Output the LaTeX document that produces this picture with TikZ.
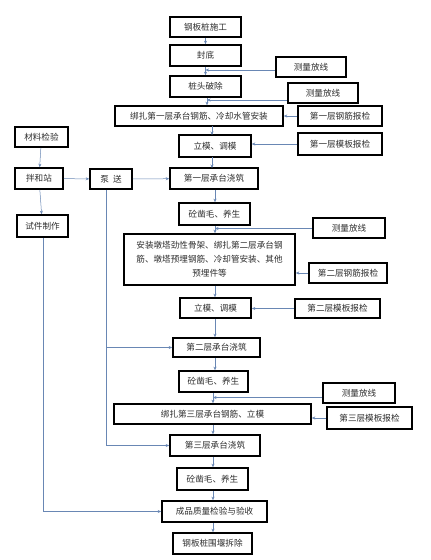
\documentclass[tikz,border=0pt]{standalone}
\usepackage{fontspec}
\newfontfamily\cjk{Noto Sans CJK SC}
\usetikzlibrary{arrows.meta}
\definecolor{conn}{RGB}{105,135,180}
\definecolor{txt}{RGB}{45,45,45}
\begin{document}
\begin{tikzpicture}[x=1pt,y=-1pt,
  box/.style={draw=black,line width=1.6pt,fill=white,inner sep=0pt,text=txt,
    font=\cjk\fontsize{8.6}{14}\selectfont,align=center},
  conn/.style={draw=conn,line width=0.5pt},
  arr/.style={conn,-{Stealth[length=3.5pt,width=3pt]}}]
\useasboundingbox (0,0) rectangle (431,560);
% main column
\node[box,minimum width=71pt,minimum height=20pt] (b1) at (205.5,27) {钢板桩施工};
\node[box,minimum width=71pt,minimum height=21pt] (b2) at (205.5,55.5) {封底};
\node[box,minimum width=71pt,minimum height=21pt] (b3) at (205.5,86.5) {桩头破除};
\node[box,minimum width=168pt,minimum height=20pt] (b4) at (199,116) {绑扎第一层承台钢筋、冷却水管安装};
\node[box,minimum width=72pt,minimum height=22pt] (b5) at (215,146) {立模、调模};
\node[box,minimum width=88pt,minimum height=21pt] (b6) at (214,178.5) {第一层承台浇筑};
\node[box,minimum width=71pt,minimum height=22pt] (b7) at (214.5,214) {砼凿毛、养生};
\node[box,minimum width=171pt,minimum height=51pt] (b8) at (209.5,259.5) {安装墩塔劲性骨架、绑扎第二层承台钢\\筋、墩塔预埋钢筋、冷却管安装、其他\\预埋件等};
\node[box,minimum width=71pt,minimum height=20pt] (b9) at (215.5,308) {立模、调模};
\node[box,minimum width=87pt,minimum height=19pt] (b10) at (216.5,347.5) {第二层承台浇筑};
\node[box,minimum width=69pt,minimum height=21pt] (b11) at (213.5,381.5) {砼凿毛、养生};
\node[box,minimum width=197pt,minimum height=20pt] (b12) at (212.5,414) {绑扎第三层承台钢筋、立模};
\node[box,minimum width=90pt,minimum height=21pt] (b13) at (215,445.5) {第三层承台浇筑};
\node[box,minimum width=71pt,minimum height=22pt] (b14) at (212.5,479) {砼凿毛、养生};
\node[box,minimum width=105pt,minimum height=21pt] (b15) at (214.5,511.5) {成品质量检验与验收};
\node[box,minimum width=79pt,minimum height=21pt] (b16) at (212.5,543.5) {钢板桩围堰拆除};
% right column
\node[box,minimum width=70pt,minimum height=20pt] (m1) at (311,67) {测量放线};
\node[box,minimum width=70pt,minimum height=20pt] (m2) at (323,93) {测量放线};
\node[box,minimum width=84pt,minimum height=20pt] (c1) at (340,116) {第一层钢筋报检};
\node[box,minimum width=84pt,minimum height=22pt] (c2) at (340,144) {第一层模板报检};
\node[box,minimum width=72pt,minimum height=20pt] (m3) at (349,228) {测量放线};
\node[box,minimum width=78pt,minimum height=20pt] (c3) at (348,273) {第二层钢筋报检};
\node[box,minimum width=85pt,minimum height=19pt] (c4) at (337.5,308.5) {第二层模板报检};
\node[box,minimum width=72pt,minimum height=20pt] (m4) at (359,393) {测量放线};
\node[box,minimum width=85pt,minimum height=22pt] (c5) at (369.5,418) {第三层模板报检};
% left column
\node[box,minimum width=53pt,minimum height=20pt] (l1) at (41.5,137) {材料检验};
\node[box,minimum width=48pt,minimum height=21pt] (l2) at (39,178.5) {拌和站};
\node[box,minimum width=51pt,minimum height=22pt] (l3) at (42.5,226) {试件制作};
\node[box,minimum width=42pt,minimum height=20pt] (p) at (111,179) {泵\enspace 送};
% junction coordinates
\coordinate (j1) at (205.5,70);
\coordinate (j2) at (207,100);
\coordinate (j3) at (215,228.5);
\coordinate (j4) at (213,397.5);
\coordinate (pd) at (106,445.5);
\coordinate (ld) at (43,511.5);
% main arrows
\draw[arr] (b1) -- (b2);
\draw[arr] (b2) -- (b3);
\draw[arr] (j2 |- b3.south) -- (j2 |- b4.north);
\draw[arr] (212,126) -- (212,135);
\draw[arr] (212,157) -- (212,168);
\draw[arr] (b6.south -| j3) -- (b7.north -| j3);
\draw[arr] (b7.south -| j3) -- (b8.north -| j3);
\draw[arr] (b8.south -| j3) -- (b9.north -| j3);
\draw[arr] (b9.south -| j3) -- (b10.north -| j3);
\draw[arr] (b10.south -| j3) -- (b11.north -| j3);
\draw[arr] (b11.south -| j4) -- (b12.north -| j4);
\draw[arr] (b12.south -| j4) -- (b13.north -| j4);
\draw[arr] (b13.south -| j4) -- (b14.north -| j4);
\draw[arr] (b14.south -| j4) -- (b15.north -| j4);
\draw[arr] (b15.south -| j4) -- (b16.north -| j4);
% side arrows
\draw[arr] (m1.west |- j1) -- (j1);
\draw[arr] (m2.west |- j2) -- (j2);
\draw[arr] (m3.west |- j3) -- (j3);
\draw[arr] (m4.west |- j4) -- (j4);
\draw[arr] (c1.west) -- (c1.west -| b4.east);
\draw[arr] (c2.west) -- (c2.west -| b5.east);
\draw[arr] (c3.west) -- (c3.west -| b8.east);
\draw[arr] (c4.west) -- (c4.west -| b9.east);
\draw[arr] (c5.west) -- (c5.west -| b12.east);
% left side
\draw[arr] (l1) -- (l2);
\draw[arr] (l2) -- (l3);
\draw[arr] (l2) -- (p);
\draw[arr] (p) -- (b6);
\draw[conn] (pd |- p.south) -- (pd);
\draw[arr] (pd) -- (b13.west |- pd);
\draw[arr] (pd |- b10.west) -- (b10.west);
\draw[conn] (ld |- l3.south) -- (ld);
\draw[arr] (ld) -- (b15.west |- ld);
\end{tikzpicture}
\end{document}
